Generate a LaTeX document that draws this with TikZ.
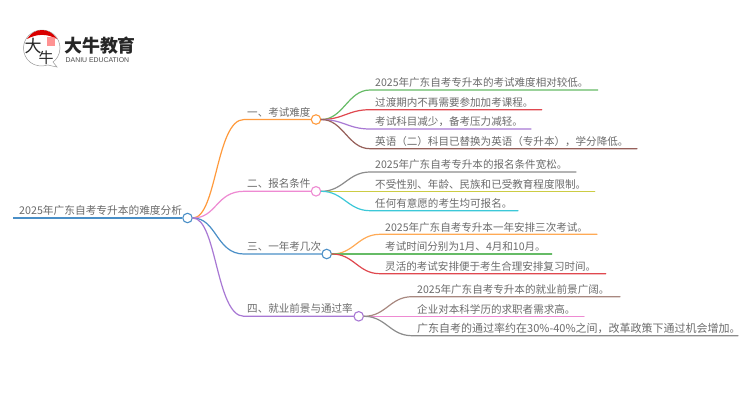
\documentclass[tikz,border=0pt]{standalone}
\usepackage{fontspec}
\setmainfont{Noto Sans CJK SC}
\newfontfamily\logolat{Liberation Sans}
\usetikzlibrary{calc}
\definecolor{cblue}{HTML}{4A8FC7}
\definecolor{corange}{HTML}{FF9A3C}
\definecolor{cpink}{HTML}{EE8AD2}
\definecolor{cpurple}{HTML}{A878D4}
\definecolor{cgreen}{HTML}{66BB66}
\definecolor{cred}{HTML}{E0484F}
\definecolor{cbrown}{HTML}{96605A}
\definecolor{cgray}{HTML}{8C8C8C}
\definecolor{cyel}{HTML}{CCCC44}
\definecolor{ccyan}{HTML}{3CC8D8}
\definecolor{ctan}{HTML}{A88880}
\definecolor{lgorange}{HTML}{FFAA55}
\tikzset{
  every node/.style={inner sep=0pt},
  hub/.style={circle,draw=#1,fill=white,line width=1.1pt,minimum size=9.5pt},
  tx/.style={anchor=base west,text=black!58,font=\fontsize{#1}{#1}\selectfont},
  tx/.default=10.55,
  lk/.style={line width=1.2pt,line cap=round},
}
\newcommand{\leaf}[8][10.55]{% size, name, hub, colour, x0, x1, y, text
  \coordinate (#2s) at (#5,#7);
  \coordinate (#2e) at (#6,#7);
  \draw[lk,#4] (#3.east) .. controls +(22,0) and +(-22,0) .. (#2s) -- (#2e);
  \node[tx=#1] (#2t) at ($(#2s)+(5,-3.2)$) {#8};
}
\begin{document}
\begin{tikzpicture}[x=1pt,y=-1pt]
\useasboundingbox (0,0) rectangle (750,410);
% logo
\fill[white] (0,0) rectangle (750,410);
\draw[black!40,line width=.5pt,fill=white] (57,67) .. controls (52,66) and (50,65.5) .. (48,65) .. controls (34,69) and (23.5,60) .. (23.5,48) .. controls (23.5,38) and (32,30) .. (42,30) .. controls (52,30) and (60,38) .. (60,48) .. controls (60,55) and (56,60) .. (53,62) -- cycle;
\fill[red!85!black] (27,39) .. controls (31,33) and (36,30) .. (42,30) .. controls (48,30) and (53,33) .. (57,39) .. controls (47,33.5) and (37,33.5) .. (27,39) -- cycle;
\fill[red!60!white,opacity=.7] (46.5,37) rectangle (55,46);
\node[text=black!85] (logoa) at (33,46) {\fontsize{17}{17}\selectfont 大};
\node[text=black!85] (logob) at (46,58) {\fontsize{15}{15}\selectfont 牛};
\node[anchor=west,text=black!85] (logoc) at (64,46) {\fontsize{17.9}{18}\selectfont\bfseries 大牛教育};
\node[anchor=west,text=black!70] (logod) at (65.5,60.5) {\logolat\fontsize{6.9}{7}\selectfont DANIU EDUCATION};
% root
\node[hub=cblue] (root) at (187.5,218) {};
\coordinate (roote) at (13,218);
\draw[cblue,line width=1.6pt] (roote) -- (root.west);
\node[tx=10.7] (roott) at (19,214.5) {2025年广东自考专升本的难度分析};
% main branches
\node[hub=corange] (a) at (316,119.5) {};
\node[hub=cpink] (b) at (316,191.3) {};
\node[hub=cblue] (c) at (326.7,254) {};
\node[hub=cpurple] (d) at (358.7,316.3) {};
\coordinate (as) at (244,119.5);
\coordinate (bs) at (244,191.3);
\coordinate (cs) at (244,254);
\coordinate (ds) at (244,316.3);
\draw[lk,corange] (root.east) .. controls +(24,0) and +(-28,0) .. (as) -- (a.west);
\draw[lk,cpink] (root.east) .. controls +(24,0) and +(-28,0) .. (bs) -- (b.west);
\draw[lk,cblue] (root.east) .. controls +(24,0) and +(-28,0) .. (cs) -- (c.west);
\draw[lk,cpurple] (root.east) .. controls +(24,0) and +(-28,0) .. (ds) -- (d.west);
\node[tx] (at) at (247,116) {一、考试难度};
\node[tx] (bt) at (247,187.8) {二、报名条件};
\node[tx] (ct) at (247,250.5) {三、一年考几次};
\node[tx] (dt) at (247,312.8) {四、就业前景与通过率};
% leaves
\leaf{a1}{a}{cgreen}{370}{597.7}{90}{2025年广东自考专升本的考试难度相对较低。}
\leaf{a2}{a}{cred}{370}{541.7}{109.7}{过渡期内不再需要参加加考课程。}
\leaf{a3}{a}{cpurple}{370}{531}{129}{考试科目减少，备考压力减轻。}
\leaf{a4}{a}{cbrown}{370}{637}{148.7}{英语（二）科目已替换为英语（专升本），学分降低。}
\leaf{b1}{b}{cgray}{370}{576}{172}{2025年广东自考专升本的报名条件宽松。}
\leaf{b2}{b}{cyel}{370}{594.7}{191.3}{不受性别、年龄、民族和已受教育程度限制。}
\leaf{b3}{b}{ccyan}{370}{518}{210.7}{任何有意愿的考生均可报名。}
\leaf{c1}{c}{lgorange}{380}{597}{234.3}{2025年广东自考专升本一年安排三次考试。}
\leaf{c2}{c}{cgreen}{380}{551.7}{254}{考试时间分别为1月、4月和10月。}
\leaf{c3}{c}{cred}{380}{605.7}{273.7}{灵活的考试安排便于考生合理安排复习时间。}
\leaf{d1}{d}{ctan}{412}{620}{296.7}{2025年广东自考专升本的就业前景广阔。}
\leaf{d2}{d}{cpink}{412}{584}{316.3}{企业对本科学历的求职者需求高。}
\leaf[11]{d3}{d}{cgray}{412}{738}{335.7}{广东自考的通过率约在30\%-40\%之间，改革政策下通过机会增加。}
\end{tikzpicture}
\end{document}
